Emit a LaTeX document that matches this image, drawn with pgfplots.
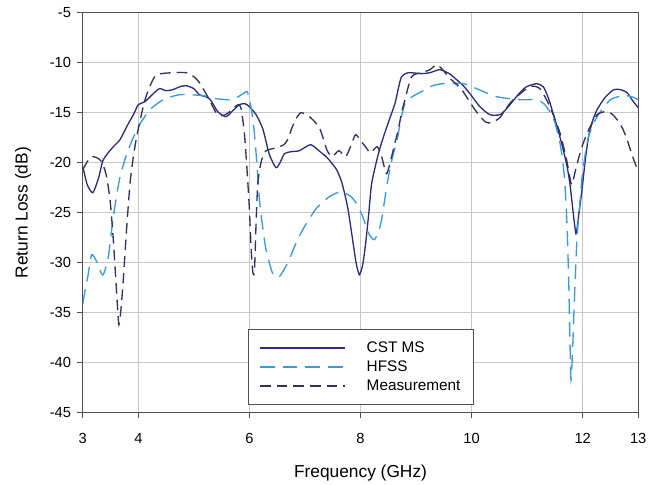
\documentclass[border=0pt]{standalone}
\usepackage{pgfplots}
\pgfplotsset{compat=1.18}
\usepackage{fontspec}
\setmainfont{Liberation Sans}
\definecolor{cst}{RGB}{45,45,125}
\definecolor{hfss}{RGB}{55,155,225}
\definecolor{meas}{RGB}{50,50,95}
\definecolor{gridc}{RGB}{200,200,200}
\definecolor{axc}{RGB}{80,80,80}
\begin{document}
\begin{tikzpicture}[x=1pt,y=1pt]
\begin{axis}[
  scale only axis,
  width=416.5pt, height=300pt,
  xmin=3, xmax=13, ymin=-45, ymax=-5,
  xtick={3,4,6,8,10,12,13},
  ytick={-45,-40,-35,-30,-25,-20,-15,-10,-5},
  grid=major,
  major grid style={gridc, line width=0.8pt},
  axis line style={axc, line width=0.9pt},
  tick style={axc, line width=0.9pt},
  tick align=outside,
  major tick length=4.3pt,
  xtick pos=bottom, ytick pos=left,
  /pgf/number format/assume math mode=true,
  ticklabel style={font=\fontsize{11}{13}\selectfont},
  xticklabel style={yshift=-7.5pt},
  yticklabel style={xshift=-1pt},
  xlabel={Frequency (GHz)},
  ylabel={Return Loss (dB)},
  label style={font=\fontsize{13}{15}\selectfont},
  xlabel style={yshift=-9pt},
  ylabel style={yshift=7pt},
  legend style={at={(0.298,0.02)}, anchor=south west, draw=axc, line width=0.6pt,
    font=\fontsize{11.5}{13}\selectfont, inner xsep=8pt, inner ysep=7pt,
    row sep=0.8pt, column sep=13.5pt, cells={anchor=west}},
  legend image code/.code={\draw[#1] (0pt,0pt) -- (64pt,0pt);},
  legend cell align=left,
]
\addplot[cst, line width=1.0pt, smooth, tension=0.4] coordinates {
(3.0,-20.4) (3.08,-22.2) (3.18,-23.0) (3.28,-21.6) (3.37,-19.7) (3.55,-18.4) (3.67,-17.7)
(3.8,-16.3) (3.92,-15.1) (4.0,-14.2) (4.12,-13.9) (4.25,-13.2) (4.38,-12.6) (4.5,-12.8)
(4.62,-12.7) (4.75,-12.4) (4.86,-12.3) (5.0,-12.6) (5.1,-13.2) (5.28,-13.6) (5.43,-14.9)
(5.58,-15.4) (5.7,-14.8) (5.82,-14.2) (5.92,-14.1) (6.0,-14.4) (6.12,-15.2) (6.24,-16.6)
(6.36,-19.2) (6.48,-20.5) (6.56,-19.9) (6.63,-19.1) (6.75,-18.9) (6.9,-18.8) (7.1,-18.2)
(7.25,-18.8) (7.4,-19.5) (7.49,-20.1) (7.58,-20.8) (7.67,-22.1) (7.77,-24.5) (7.85,-27.4)
(7.92,-30.0) (7.98,-31.2) (8.04,-30.2) (8.09,-28.2) (8.15,-25.0) (8.2,-22.1) (8.3,-19.6)
(8.38,-18.0) (8.5,-16.0) (8.62,-14.1) (8.68,-12.6) (8.74,-11.4) (8.86,-11.0) (9.1,-11.1)
(9.25,-11.0) (9.43,-10.7) (9.6,-11.1) (9.73,-11.7) (9.85,-12.3) (9.97,-13.1) (10.15,-14.4)
(10.33,-15.2) (10.51,-15.2) (10.63,-14.6) (10.75,-13.8) (10.87,-13.0) (10.99,-12.4)
(11.17,-12.1) (11.29,-12.4) (11.38,-13.5) (11.47,-15.1) (11.56,-16.8) (11.65,-18.7)
(11.72,-20.4) (11.77,-22.1) (11.83,-25.0) (11.88,-27.1) (11.93,-25.2) (11.99,-22.6)
(12.05,-19.6) (12.11,-17.3) (12.18,-15.8) (12.26,-14.7) (12.4,-13.5) (12.56,-12.7)
(12.68,-12.7) (12.8,-13.0) (12.9,-13.8) (13.0,-14.5)
};
\addlegendentry{CST MS}
\addplot[hfss, line width=1.0pt, dash pattern=on 11pt off 6pt, smooth, tension=0.4] coordinates {
(3.0,-34.1) (3.05,-32.5) (3.09,-31.4) (3.16,-29.2) (3.25,-29.9) (3.31,-30.8) (3.37,-31.2)
(3.46,-29.4) (3.55,-25.4) (3.67,-21.4) (3.82,-18.7) (4.0,-16.4) (4.21,-14.7) (4.45,-13.7)
(4.75,-13.2) (5.17,-13.3) (5.4,-13.6) (5.64,-13.7) (5.8,-13.4) (5.91,-13.0) (5.96,-12.9)
(6.0,-13.7) (6.05,-15.2) (6.09,-17.1) (6.14,-20.5) (6.18,-23.7) (6.24,-26.5) (6.3,-28.7)
(6.42,-31.1) (6.54,-31.4) (6.69,-30.0) (6.82,-28.3) (6.96,-26.7) (7.2,-24.6) (7.44,-23.4)
(7.65,-22.9) (7.83,-23.4) (7.94,-24.2) (8.04,-25.4) (8.16,-27.2) (8.25,-27.7) (8.32,-26.9)
(8.38,-25.7) (8.48,-22.1) (8.57,-19.6) (8.66,-17.7) (8.73,-15.6) (8.8,-14.1) (8.9,-13.5)
(9.13,-12.8) (9.3,-12.3) (9.49,-12.1) (9.85,-12.1) (10.09,-12.6) (10.45,-13.4)
(10.87,-13.7) (11.17,-13.7) (11.3,-14.1) (11.41,-14.9) (11.5,-16.0) (11.59,-18.0)
(11.64,-19.8) (11.68,-22.1) (11.72,-26.5) (11.75,-32.1) (11.77,-37.5) (11.79,-41.7)
(11.82,-38.5) (11.84,-35.4) (11.87,-31.0) (11.9,-27.4) (11.95,-24.0) (11.99,-21.4)
(12.05,-19.0) (12.11,-17.3) (12.26,-15.4) (12.5,-13.7) (12.74,-13.3) (12.88,-13.4) (13.0,-13.7)
};
\addlegendentry{HFSS}
\addplot[meas, line width=1.0pt, dash pattern=on 8pt off 4.5pt, smooth, tension=0.4] coordinates {
(3.0,-20.7) (3.08,-19.9) (3.16,-19.4) (3.25,-19.5) (3.34,-19.9) (3.42,-21.2) (3.49,-23.7)
(3.54,-27.0) (3.58,-30.4) (3.62,-34.0) (3.65,-36.2) (3.69,-34.5) (3.73,-31.6) (3.79,-26.5)
(3.85,-22.1) (3.91,-19.4) (3.97,-17.4) (4.05,-15.3) (4.12,-13.7) (4.22,-12.2) (4.33,-11.2)
(4.62,-11.0) (4.86,-11.0) (5.0,-11.4) (5.1,-12.0) (5.25,-13.4) (5.4,-15.0) (5.5,-15.3)
(5.6,-15.1) (5.72,-14.5) (5.8,-14.2) (5.85,-14.6) (5.91,-17.1) (5.96,-21.0) (6.0,-24.7)
(6.03,-28.5) (6.06,-30.9) (6.09,-30.9) (6.12,-26.0) (6.15,-22.1) (6.2,-20.2) (6.24,-19.4)
(6.3,-18.8) (6.42,-18.6) (6.54,-18.4) (6.62,-18.2) (6.69,-17.7) (6.76,-16.6) (6.84,-15.6)
(6.93,-15.0) (7.08,-15.4) (7.25,-16.4) (7.33,-17.6) (7.4,-18.8) (7.49,-19.4) (7.61,-18.8)
(7.73,-19.4) (7.82,-18.4) (7.91,-17.2) (8.0,-17.8) (8.09,-18.4) (8.18,-19.0) (8.3,-18.4)
(8.38,-19.4) (8.47,-21.1) (8.56,-19.4) (8.62,-18.0) (8.68,-16.7) (8.74,-15.0) (8.8,-13.7)
(8.92,-11.4) (9.1,-11.0) (9.25,-10.7) (9.37,-10.2) (9.48,-10.7) (9.58,-11.4) (9.82,-12.7)
(10.06,-14.7) (10.24,-15.9) (10.36,-16.0) (10.51,-15.5) (10.62,-14.6) (10.75,-13.7)
(11.05,-12.4) (11.23,-12.6) (11.41,-14.4) (11.59,-17.0) (11.71,-19.7) (11.8,-22.2)
(11.86,-21.0) (11.92,-19.7) (12.0,-18.2) (12.11,-16.7) (12.26,-15.2) (12.41,-14.9)
(12.52,-15.1) (12.62,-15.7) (12.72,-16.6) (12.8,-17.7) (12.9,-19.4) (13.0,-20.9)
};
\addlegendentry{Measurement}
\end{axis}
\path (current axis.south west) ++(-62.1pt,-53.5pt) coordinate (bbsw);
\path (current axis.north east) ++(8.1pt,9.5pt) coordinate (bbne);
\pgfresetboundingbox
\path[use as bounding box] (bbsw) rectangle (bbne);
\end{tikzpicture}
\end{document}
